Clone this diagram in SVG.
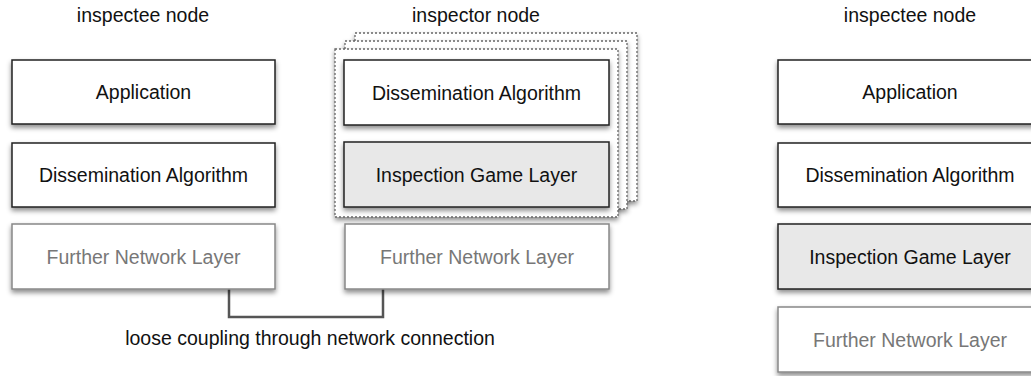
<svg xmlns="http://www.w3.org/2000/svg" width="1031" height="376" viewBox="0 0 1031 376">
<defs>
<filter id="sh" x="-10%" y="-20%" width="125%" height="150%">
<feDropShadow dx="0" dy="3" stdDeviation="2.5" flood-color="#000" flood-opacity="0.45"/>
</filter>
<style>
text{font-family:"Liberation Sans",Arial,Helvetica,sans-serif;font-size:19.5px;text-anchor:middle;fill:#111}
.box{fill:#fff;stroke:#222;stroke-width:1.5}
.grey{fill:#e8e8e8;stroke:#222;stroke-width:1.5}
.net{fill:#fff;stroke:#888;stroke-width:1.5}
.nett{fill:#777}
.frame{fill:#fff;stroke:#666;stroke-width:1.3;stroke-dasharray:2 2}
.conn{fill:none;stroke:#555;stroke-width:2.5}
</style>
</defs>
<rect width="1031" height="376" fill="#fff"/>
<text x="143" y="22">inspectee node</text>
<text x="476" y="22">inspector node</text>
<text x="910" y="22">inspectee node</text>
<g id="connectors">
<path class="conn" d="M229,289 V317 H383 V289"/>
<text x="310" y="345">loose coupling through network connection</text>
</g>
<g id="left-app"><rect class="box" x="12" y="60" width="263" height="64" filter="url(#sh)"/><text x="143.5" y="99">Application</text></g>
<g id="left-diss"><rect class="box" x="12" y="143" width="263" height="64" filter="url(#sh)"/><text x="143.5" y="182">Dissemination Algorithm</text></g>
<g id="left-net"><rect class="net" x="12" y="224" width="263" height="65" filter="url(#sh)"/><text class="nett" x="143.5" y="263.5">Further Network Layer</text></g>
<g id="inspector-stack">
<rect class="frame" x="355" y="33" width="282" height="168" filter="url(#sh)"/>
<rect class="frame" x="345" y="41" width="282" height="168" filter="url(#sh)"/>
<rect class="frame" x="335" y="49" width="283" height="168" filter="url(#sh)"/>
</g>
<g id="mid-diss"><rect class="box" x="344" y="60" width="265" height="65" filter="url(#sh)"/><text x="476.5" y="99.5">Dissemination Algorithm</text></g>
<g id="mid-igl"><rect class="grey" x="344" y="142" width="265" height="65" filter="url(#sh)"/><text x="476.5" y="181.5">Inspection Game Layer</text></g>
<g id="mid-net"><rect class="net" x="345" y="224" width="264" height="65" filter="url(#sh)"/><text class="nett" x="477" y="263.5">Further Network Layer</text></g>
<g id="right-app"><rect class="box" x="778" y="60" width="264" height="64" filter="url(#sh)"/><text x="910" y="99">Application</text></g>
<g id="right-diss"><rect class="box" x="778" y="143" width="264" height="64" filter="url(#sh)"/><text x="910" y="182">Dissemination Algorithm</text></g>
<g id="right-igl"><rect class="grey" x="778" y="224" width="264" height="65" filter="url(#sh)"/><text x="910" y="263.5">Inspection Game Layer</text></g>
<g id="right-net"><rect class="net" x="778" y="307" width="264" height="65" filter="url(#sh)"/><text class="nett" x="910" y="346.5">Further Network Layer</text></g>
</svg>
